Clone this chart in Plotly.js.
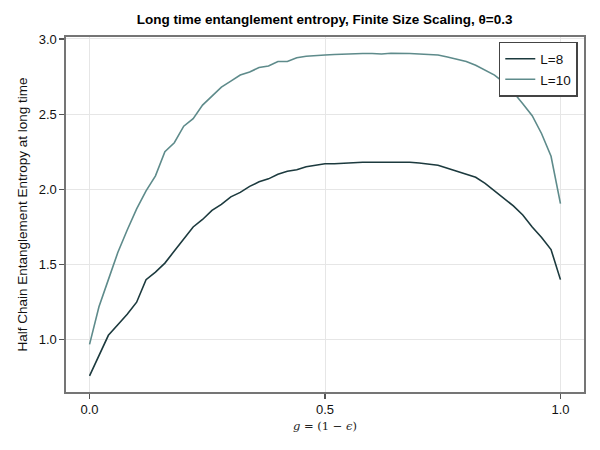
<!DOCTYPE html>
<html>
<head>
<meta charset="utf-8">
<script src="https://cdn.plot.ly/plotly-3.0.1.min.js"></script>
<style>html,body{margin:0;padding:0;background:#fff;}#chart{width:600px;height:450px;}</style>
</head>
<body>
<div id="chart"></div>
<script>
const g = [0.00,0.02,0.04,0.06,0.08,0.10,0.12,0.14,0.16,0.18,0.20,0.22,0.24,0.26,0.28,0.30,0.32,0.34,0.36,0.38,0.40,0.42,0.44,0.46,0.48,0.50,0.52,0.54,0.56,0.58,0.60,0.62,0.64,0.66,0.68,0.70,0.72,0.74,0.76,0.78,0.80,0.82,0.84,0.86,0.88,0.90,0.92,0.94,0.96,0.98,1.00];
const entropyL8 = [0.76,0.90,1.03,1.10,1.17,1.25,1.40,1.45,1.51,1.59,1.67,1.75,1.80,1.86,1.90,1.95,1.98,2.02,2.05,2.07,2.10,2.12,2.13,2.15,2.16,2.17,2.17,2.175,2.18,2.18,2.18,2.18,2.18,2.18,2.18,2.175,2.17,2.16,2.14,2.12,2.10,2.08,2.04,1.99,1.94,1.89,1.83,1.75,1.68,1.60,1.40];
const entropyL10 = [0.97,1.22,1.40,1.58,1.73,1.87,1.99,2.09,2.25,2.31,2.42,2.47,2.56,2.62,2.68,2.72,2.76,2.78,2.81,2.82,2.85,2.85,2.875,2.885,2.887,2.893,2.897,2.90,2.902,2.903,2.903,2.90,2.905,2.906,2.903,2.90,2.897,2.893,2.88,2.865,2.85,2.825,2.79,2.76,2.71,2.645,2.57,2.49,2.37,2.22,1.905];
const seriesNames = ["L=8","L=10"];
const xTicks = [0, 0.5, 1.0];
const xTickLabels = ["0.0","0.5","1.0"];
const yTicks = [1.0,1.5,2.0,2.5,3.0];
const yTickLabels = ["1.0","1.5","2.0","2.5","3.0"];

const FONT = "Liberation Sans, Arial, sans-serif";
const traces = [
  {x: g, y: entropyL8, name: seriesNames[0], mode: "lines", type: "scatter",
   line: {color: "#1c3a3e", width: 1.6}},
  {x: g, y: entropyL10, name: seriesNames[1], mode: "lines", type: "scatter",
   line: {color: "#5e8b8b", width: 1.6}}
];
const axisCommon = {
  showline: true, mirror: true, linecolor: "#757575", linewidth: 1.6,
  ticks: "outside", ticklen: 5, tickwidth: 1.2, tickcolor: "#555",
  showgrid: true, gridcolor: "#e6e6e6", gridwidth: 1, zeroline: false,
  tickfont: {family: FONT, size: 13, color: "#111"}
};
const layout = {
  width: 600, height: 450,
  margin: {l: 66, r: 16, t: 37, b: 58},
  paper_bgcolor: "#fff", plot_bgcolor: "#fff",
  font: {family: FONT, color: "#111"},
  title: {text: "<b>Long time entanglement entropy, Finite Size Scaling, θ=0.3</b>",
          font: {family: FONT, size: 13.5, color: "#000"},
          x: 0.541, xanchor: "center", y: 0.958, yanchor: "middle"},
  xaxis: Object.assign({}, axisCommon, {
    range: [-0.05, 1.05], tickvals: xTicks, ticktext: xTickLabels,
    title: {text: "<i>g</i> = (1 − <i>ϵ</i>)", font: {family: "DejaVu Serif, serif", size: 11.5, color: "#222"}, standoff: 6}
  }),
  yaxis: Object.assign({}, axisCommon, {
    range: [0.653, 3.013], tickvals: yTicks, ticktext: yTickLabels,
    title: {text: "Half Chain Entanglement Entropy at long time", font: {family: FONT, size: 13.5, color: "#111"}, standoff: 8}
  }),
  showlegend: true,
  legend: {x: 0.988, y: 0.986, xanchor: "right", yanchor: "top",
           bgcolor: "#fff", bordercolor: "#444", borderwidth: 1.5,
           font: {family: FONT, size: 13.5, color: "#111"},
           tracegroupgap: 2, itemwidth: 30}
};
Plotly.newPlot("chart", traces, layout, {staticPlot: true, displayModeBar: false});
</script>
</body>
</html>
